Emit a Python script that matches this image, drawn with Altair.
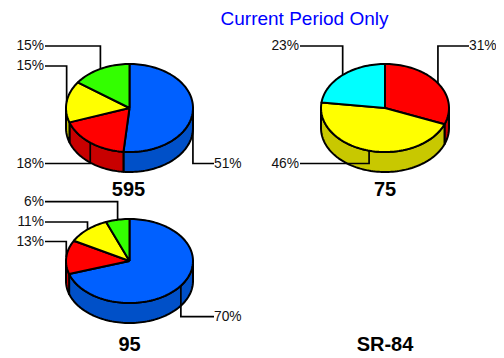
import math
import altair as alt
import pandas as pd

title_text = "Current Period Only"
pie_names = ["595", "75", "95", "SR-84"]
shares_595 = [51, 18, 15, 15]
shares_75 = [31, 46, 23]
shares_95 = [70, 13, 11, 6]
colors_595 = ["blue", "red", "yellow", "green"]
colors_75 = ["red", "yellow", "cyan"]
colors_95 = ["blue", "red", "yellow", "green"]
top_colors = {"blue": "#0060FF", "red": "#FF0000", "yellow": "#FFFF00", "green": "#33FF00", "cyan": "#00FFFF"}
wall_colors = {"blue": "#0050C8", "red": "#C80000", "yellow": "#C8C800", "green": "#28C800", "cyan": "#00C8C8"}

# layout: (cx, cy, rx, ry, depth, label rows per slice, label side per slice)
pies = [
    (shares_595, colors_595, (129.5, 108, 63.5, 44, 20), [163.5, 163.5, 66, 46], ["R", "L", "L", "L"]),
    (shares_75, colors_75, (385, 108, 64, 44, 20), [46, 163.5, 46], ["R", "L", "L"]),
    (shares_95, colors_95, (129.5, 261, 63.5, 42, 20), [316.7, 241.5, 222, 201.7], ["R", "L", "L", "L"]),
]
name_pos = [(128.5, 190), (385, 190), (129.5, 345), (385, 345)]
left_edge = {0: 45, 1: 300, 2: 45}
right_edge = {0: 214, 1: 469, 2: 214}

polys, leaders, texts = [], [], []
pid = 0

def add_poly(pts, fill):
    global pid
    for i, (x, y) in enumerate(pts):
        polys.append({"pid": f"{pid:03d}", "i": i, "x": x, "y": y, "fill": fill})
    pid += 1

def ell(g, a, dy=0):
    cx, cy, rx, ry, _ = g
    r = math.radians(a)
    return (cx + rx * math.sin(r), cy - ry * math.cos(r) + dy)

def arc_pts(g, a0, a1, dy=0):
    n = max(2, int(abs(a1 - a0) / 2) + 2)
    return [ell(g, a0 + (a1 - a0) * k / (n - 1), dy) for k in range(n)]

lid = 0
for pi, (shares, cols, g, rows, sides) in enumerate(pies):
    tot = sum(shares)
    cum = 0
    spans = []
    for s, c in zip(shares, cols):
        spans.append((cum / tot * 360, (cum + s) / tot * 360, s, c))
        cum += s
    for a0, a1, s, c in spans:
        lo, hi = max(a0, 90), min(a1, 270)
        if hi > lo:
            pts = arc_pts(g, lo, hi) + arc_pts(g, hi, lo, g[4])
            add_poly(pts + [pts[0]], wall_colors[c])
    for a0, a1, s, c in spans:
        pts = [(g[0], g[1])] + arc_pts(g, a0, a1) + [(g[0], g[1])]
        add_poly(pts, top_colors[c])
    for (a0, a1, s, c), row, side in zip(spans, rows, sides):
        ax, ay = ell(g, (a0 + a1) / 2)
        ex = right_edge[pi] if side == "R" else left_edge[pi]
        for i, (x, y) in enumerate([(ex, row), (ax, row), (ax, ay)]):
            leaders.append({"lid": f"{lid:03d}", "i": i, "x": x, "y": y})
        lid += 1
        texts.append({"x": ex + (0 if side == "R" else -1), "y": row, "t": f"{s}%", "side": side})

x_s = alt.Scale(domain=[8, 496], range=[0, 488])
y_s = alt.Scale(domain=[8, 356], range=[0, 348])
X = alt.X("x:Q", scale=x_s, axis=None)
Y = alt.Y("y:Q", scale=y_s, axis=None)

poly_layer = alt.Chart(pd.DataFrame(polys)).mark_line(stroke="black", strokeWidth=2, strokeJoin="round", interpolate="linear").encode(
    x=X, y=Y, detail="pid:N", order="i:Q", fill=alt.Fill("fill:N", scale=None))
lead_layer = alt.Chart(pd.DataFrame(leaders)).mark_line(stroke="black", strokeWidth=1.7, strokeJoin="miter").encode(
    x=X, y=Y, detail="lid:N", order="i:Q")
tdf = pd.DataFrame(texts)
font = "Liberation Sans"
lab_l = alt.Chart(tdf[tdf.side == "L"]).mark_text(font=font, fontSize=13.8, align="right", baseline="middle", color="#111").encode(x=X, y=Y, text="t:N")
lab_r = alt.Chart(tdf[tdf.side == "R"]).mark_text(font=font, fontSize=13.8, align="left", baseline="middle", color="#111").encode(x=X, y=Y, text="t:N")
names = alt.Chart(pd.DataFrame({"t": pie_names, "x": [p[0] for p in name_pos], "y": [p[1] for p in name_pos]})).mark_text(
    font=font, fontSize=20, fontWeight="bold", align="center", baseline="middle", color="black").encode(x=X, y=Y, text="t:N")
title = alt.Chart(pd.DataFrame({"t": [title_text], "x": [304.5], "y": [18.5]})).mark_text(
    font=font, fontSize=19, align="center", baseline="middle", color="#0000FF").encode(x=X, y=Y, text="t:N")

chart = alt.layer(poly_layer, lead_layer, lab_l, lab_r, names, title).properties(
    width=488, height=348, padding=0, autosize=alt.AutoSizeParams(type="none")
).configure_view(stroke=None)
chart.save("out.html", embed_options={"renderer": "svg", "actions": False})
